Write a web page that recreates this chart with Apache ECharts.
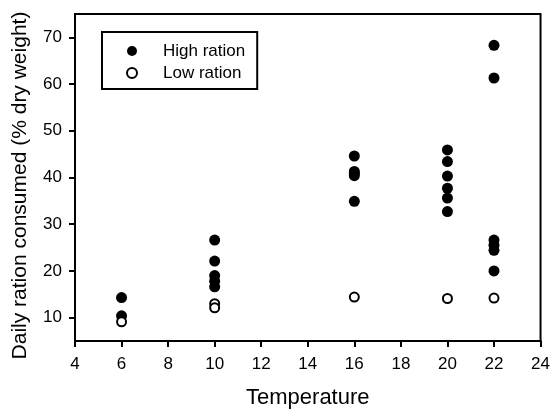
<!DOCTYPE html>
<html>
<head>
<meta charset="utf-8">
<script src="https://cdn.jsdelivr.net/npm/echarts@6/dist/echarts.min.js"></script>
<style>
html,body{margin:0;padding:0;background:#fff;}
#chart{width:553px;height:414px;}
</style>
</head>
<body>
<div id="chart"></div>
<script>
// Data
const highTemp = [6, 6, 10, 10, 10, 10, 10, 16, 16, 16, 16, 16, 20, 20, 20, 20, 20, 20, 22, 22, 22, 22, 22, 22];
const highVals = [14.3, 10.4, 26.6, 22.1, 19.0, 17.8, 16.6, 44.6, 41.3, 40.9, 40.4, 34.9, 45.9, 43.4, 40.3, 37.7, 35.6, 32.7, 68.3, 61.3, 26.6, 25.5, 24.4, 20.0];
const lowTemp = [6, 10, 10, 16, 20, 22];
const lowVals = [9.1, 13.0, 12.1, 14.4, 14.1, 14.2];
const yTicks = [10, 20, 30, 40, 50, 60, 70];
const xTitle = 'Temperature';
const yTitle = 'Daily ration consumed (% dry weight)';
const seriesNames = ['High ration', 'Low ration'];

const font = 'Liberation Sans, Arial, Helvetica, sans-serif';
const chart = echarts.init(document.getElementById('chart'), null, {renderer: 'canvas'});
chart.setOption({
  animation: false,
  backgroundColor: '#fff',
  grid: {left: 75, right: 10, top: 14, bottom: 72, show: true, borderColor: '#000', borderWidth: 2, backgroundColor: 'transparent'},
  legend: {
    orient: 'vertical', left: 102, top: 32,
    padding: [10, 12, 7, 24],
    borderColor: '#000', borderWidth: 2,
    itemWidth: 40, itemHeight: 10, itemGap: 4,
    textStyle: {fontFamily: font, fontSize: 17, color: '#000', lineHeight: 18, padding: [0, 0, 0, 6]},
    data: seriesNames
  },
  xAxis: {
    type: 'value', min: 4, max: 24, interval: 2,
    name: xTitle, nameLocation: 'middle', nameGap: 46,
    nameTextStyle: {fontFamily: font, fontSize: 22, color: '#000'},
    axisLine: {show: true, lineStyle: {color: '#000', width: 2}},
    axisTick: {show: true, inside: false, length: 6, lineStyle: {color: '#000', width: 2}},
    axisLabel: {fontFamily: font, fontSize: 17, color: '#000', margin: 15},
    splitLine: {show: false}
  },
  yAxis: {
    type: 'value', min: 5, max: 75,
    name: yTitle, nameLocation: 'middle', nameGap: 44,
    nameTextStyle: {fontFamily: font, fontSize: 21, color: '#000', padding: [0, 16, 0, 0]},
    axisLine: {show: true, lineStyle: {color: '#000', width: 2}},
    axisTick: {show: true, inside: false, length: 6, lineStyle: {color: '#000', width: 2}, customValues: yTicks},
    axisLabel: {fontFamily: font, fontSize: 17, color: '#000', margin: 13, customValues: yTicks},
    splitLine: {show: false}
  },
  series: [
    {
      name: seriesNames[0], type: 'scatter', symbol: 'circle', symbolSize: 11,
      itemStyle: {color: '#000', opacity: 1},
      data: highTemp.map((t, i) => [t, highVals[i]])
    },
    {
      name: seriesNames[1], type: 'scatter', symbol: 'circle', symbolSize: 9,
      itemStyle: {color: '#fff', borderColor: '#000', borderWidth: 2, opacity: 1},
      data: lowTemp.map((t, i) => [t, lowVals[i]])
    }
  ]
});
</script>
</body>
</html>
